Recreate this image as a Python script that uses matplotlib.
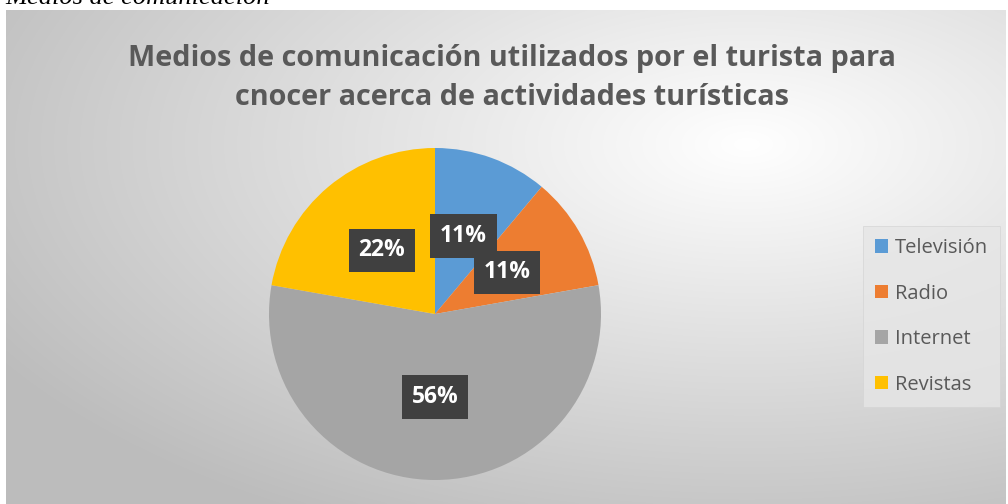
import numpy as np
import matplotlib
matplotlib.use("Agg")
import matplotlib.pyplot as plt
from matplotlib.patches import Patch

categories = ["Televisión", "Radio", "Internet", "Revistas"]
values = [1, 1, 5, 2]
colors = ["#5B9BD5", "#ED7D31", "#A5A5A5", "#FFC000"]
title = "Medios de comunicación utilizados por el turista para\ncnocer acerca de actividades turísticas"
caption = "Medios de comunicación"

W, H = 1008, 504
fig = plt.figure(figsize=(W / 100, H / 100), dpi=100)
fig.patch.set_facecolor("white")

# background radial gradient of chart area
bx0, by0, bx1, by1 = 6, 10, 1006, 504  # pixel box (top-left origin)
bg = fig.add_axes([bx0 / W, 1 - by1 / H, (bx1 - bx0) / W, (by1 - by0) / H])
ny, nx = 250, 500
yy, xx = np.mgrid[0:ny, 0:nx]
cx, cy = 0.74 * nx, 0.27 * ny
d = np.sqrt(((xx - cx) / nx) ** 2 + ((yy - cy) / ny) ** 2)
g = np.clip(1.0 - 0.30 * d, 0.74, 1.0)
img = np.dstack([g, g, g])
bg.imshow(img, aspect="auto", extent=[0, 1, 0, 1], origin="upper", interpolation="bilinear")
bg.set_axis_off()

# caption (cut off at top)
fig.text(5 / W, 1 - 4 / H, caption, fontsize=19, family="Liberation Serif",
         style="italic", ha="left", va="baseline", color="black")

# title
fig.text(512 / W, 1 - 78 / H, title, fontsize=20.8, fontweight="bold", color="#595959",
         family="Open Sans", ha="center", va="center", linespacing=1.45)

# pie
cxp, cyp, r = 435, 314, 166
ax = fig.add_axes([(cxp - r) / W, 1 - (cyp + r) / H, 2 * r / W, 2 * r / H])
wedges, texts, autotexts = ax.pie(values, colors=colors, startangle=90, counterclock=False,
                                  autopct="%1.0f%%", pctdistance=0.5, radius=1,
                                  wedgeprops=dict(linewidth=0))
for t in autotexts:
    t.set_color("white")
    t.set_fontsize(16.5)
    t.set_fontweight("bold")
    t.set_family("Open Sans")
    t.set_bbox(dict(boxstyle="square,pad=0.42", facecolor="#404040", edgecolor="none"))
ax.set_xlim(-1, 1)
ax.set_ylim(-1, 1)
ax.set_aspect("equal")
ax.set_axis_off()

# legend
handles = [Patch(facecolor=c, edgecolor="none") for c in colors]
leg = fig.legend(handles, categories, loc="upper left",
                 bbox_to_anchor=(863 / W, 1 - 226 / H),
                 frameon=True, fancybox=False,
                 prop=dict(family="Open Sans", size=14.5),
                 labelspacing=1.27, handlelength=0.65, handleheight=0.65,
                 handletextpad=0.35, borderpad=0.6, borderaxespad=0)
leg.get_frame().set_facecolor("#e6e6e6")
leg.get_frame().set_edgecolor("#d4d4d4")
leg.get_frame().set_linewidth(0.6)
for t in leg.get_texts():
    t.set_color("#595959")

fig.savefig("out.png", dpi=100, facecolor="white")
